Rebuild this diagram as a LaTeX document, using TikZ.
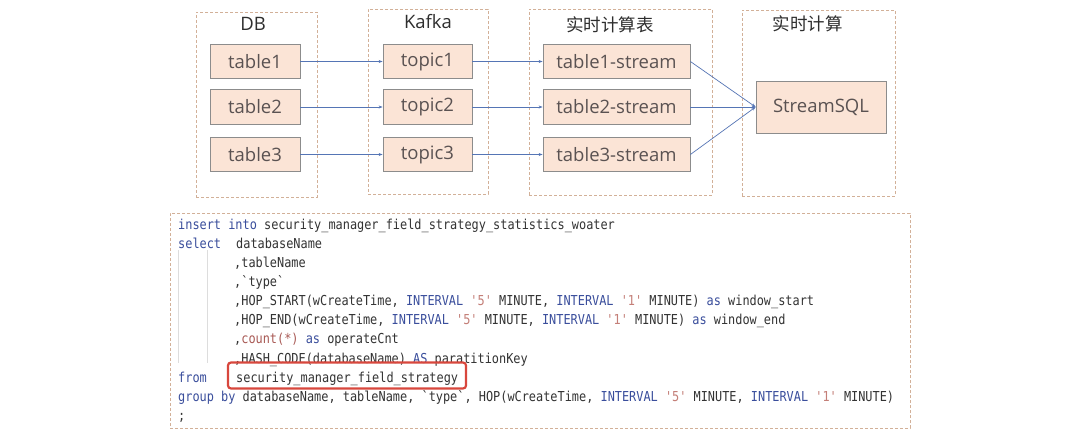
\documentclass[tikz,border=0pt]{standalone}
\usepackage{fontspec}
\setmainfont{Open Sans}
\newfontfamily\cjk{Noto Sans CJK SC}
\setmonofont[FakeStretch=0.868]{DejaVu Sans Mono}
\usetikzlibrary{arrows.meta}
\definecolor{boxfill}{HTML}{FBE4D6}
\definecolor{boxdraw}{HTML}{8C8C8C}
\definecolor{grpdraw}{HTML}{D2B098}
\definecolor{arr}{HTML}{5575B5}
\definecolor{txt}{HTML}{5A5252}
\definecolor{ttl}{HTML}{2E2E2E}
\definecolor{kwc}{HTML}{3A4E9C}
\definecolor{strc}{HTML}{C47F78}
\definecolor{fnc}{HTML}{A95A55}
\definecolor{codec}{HTML}{333333}
\definecolor{hl}{HTML}{D8473D}
\definecolor{guide}{HTML}{DDDDDD}
\newcommand{\kwd}[1]{\textcolor{kwc}{#1}}
\newcommand{\strg}[1]{\textcolor{strc}{#1}}
\newcommand{\fnm}[1]{\textcolor{fnc}{#1}}
\begin{document}
\begin{tikzpicture}[x=1pt,y=-1pt,
  tbox/.style={draw=boxdraw, fill=boxfill, line width=0.8pt, inner sep=0pt,
    text=txt, font=\fontsize{18.5}{20}\selectfont, minimum height=34.5pt},
  grp/.style={draw=grpdraw, dash pattern=on 3pt off 2pt, line width=0.8pt, inner sep=0pt},
  ttlnode/.style={text=ttl, inner sep=0pt},
  conn/.style={draw=arr, line width=0.7pt, -{Stealth[length=4pt,width=3pt]}},
  codeline/.style={anchor=base west, inner sep=0pt, text=codec,
    font=\ttfamily\fontsize{13.7}{16}\selectfont}
]
\useasboundingbox (0,0) rectangle (1080,431);
\fill[white] (0,0) rectangle (1080,431);

% group boxes
\node[grp, minimum width=121pt, minimum height=185pt] (gdb) at (256.5,104.5) {};
\node[grp, minimum width=120pt, minimum height=185pt] (gkafka) at (428,101.5) {};
\node[grp, minimum width=183pt, minimum height=186pt] (gstream) at (620.5,102) {};
\node[grp, minimum width=153pt, minimum height=186pt] (gcalc) at (818.5,103) {};

% titles
\node[ttlnode, font=\fontsize{18.5}{20}\selectfont] (tdb) at (253,24) {DB};
\node[ttlnode, font=\fontsize{18.5}{20}\selectfont] (tkafka) at (428,22) {Kafka};
\node[ttlnode, font=\cjk\fontsize{17.5}{20}\selectfont] (tstream) at (610,25) {实时计算表};
\node[ttlnode, font=\cjk\fontsize{17.5}{20}\selectfont] (tcalc) at (807.5,24) {实时计算};

% boxes
\node[tbox, minimum width=90pt] (t1) at (255,61.5) {table1};
\node[tbox, minimum width=90pt] (t2) at (255,107) {table2};
\node[tbox, minimum width=90pt] (t3) at (255,154.5) {table3};
\node[tbox, minimum width=89pt] (k1) at (427.5,61.5) {topic1};
\node[tbox, minimum width=89pt] (k2) at (427.5,107) {topic2};
\node[tbox, minimum width=89pt] (k3) at (427.5,154.5) {topic3};
\node[tbox, minimum width=147pt] (s1) at (616.5,61.5) {table1-stream};
\node[tbox, minimum width=147pt] (s2) at (616.5,107) {table2-stream};
\node[tbox, minimum width=147pt] (s3) at (616.5,154.5) {table3-stream};
\node[tbox, minimum width=130pt, minimum height=52pt] (sql) at (821,107) {StreamSQL};

% connectors
\draw[conn] (t1) -- (k1);
\draw[conn] (t2) -- (k2);
\draw[conn] (t3) -- (k3);
\draw[conn] (k1) -- (s1);
\draw[conn] (k2) -- (s2);
\draw[conn] (k3) -- (s3);
\draw[conn] (s1.east) -- (sql.west);
\draw[conn] (s2.east) -- (sql.west);
\draw[conn] (s3.east) -- (sql.west);

% code box
\node[grp, minimum width=740pt, minimum height=215pt] (code) at (540,320.5) {};
\draw[guide, line width=0.6pt] (178,250) -- (178,363);
\draw[guide, line width=0.6pt] (207,250) -- (207,363);

\node[codeline] (c1) at (178,229) {\kwd{insert} \kwd{into} security\_manager\_field\_strategy\_statistics\_woater};
\node[codeline] (c2a) at (178,248) {\kwd{select}};
\node[codeline] (c2b) at (236,248) {databaseName};
\node[codeline] (c3) at (234,267) {,tableName};
\node[codeline] (c4) at (234,286) {,`type`};
\node[codeline] (c5) at (234,305) {,HOP\_START(wCreateTime, \kwd{INTERVAL} \strg{'5'} MINUTE, \kwd{INTERVAL} \strg{'1'} MINUTE) \kwd{as} window\_start};
\node[codeline] (c6) at (234,324) {,HOP\_END(wCreateTime, \kwd{INTERVAL} \strg{'5'} MINUTE, \kwd{INTERVAL} \strg{'1'} MINUTE) \kwd{as} window\_end};
\node[codeline] (c7) at (234,343) {,\fnm{count(*)} \kwd{as} operateCnt};
\node[codeline] (c8) at (234,363) {,HASH\_CODE(databaseName) \kwd{AS} paratitionKey};
\node[codeline] (c9a) at (178,382) {\kwd{from}};
\node[codeline] (c9b) at (236,382) {security\_manager\_field\_strategy};
\node[codeline] (c10) at (178,401) {\kwd{group} \kwd{by} databaseName, tableName, `type`, HOP(wCreateTime, \kwd{INTERVAL} \strg{'5'} MINUTE, \kwd{INTERVAL} \strg{'1'} MINUTE)};
\node[codeline] (c11) at (178,420) {;};

% highlight
\draw[hl, line width=2.2pt, rounded corners=3pt] (228,362.5) rectangle (466,388.5);
\end{tikzpicture}
\end{document}
